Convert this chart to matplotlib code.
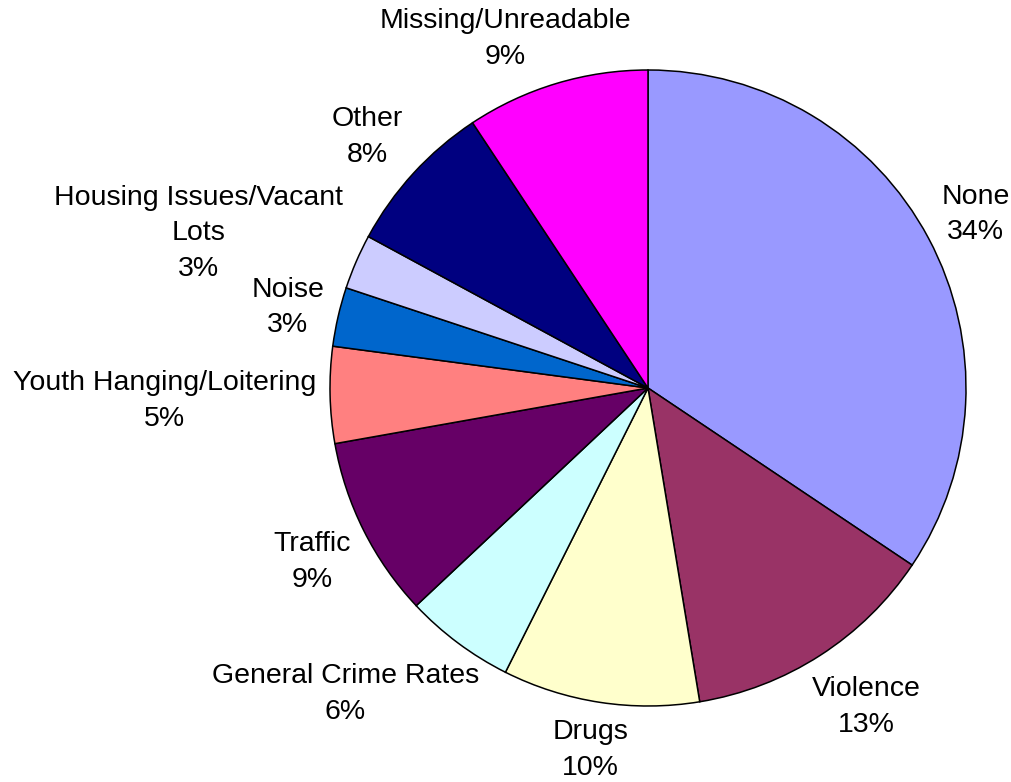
import matplotlib
matplotlib.use("Agg")
import matplotlib.pyplot as plt
import numpy as np

categories = ["None", "Violence", "Drugs", "General Crime Rates", "Traffic",
              "Youth Hanging/Loitering", "Noise", "Housing Issues/Vacant\nLots",
              "Other", "Missing/Unreadable"]
shares = [34.4, 13.0, 10.0, 5.6, 9.2, 4.9, 3.0, 2.8, 7.8, 9.3]
colors = ["#9999FF", "#993366", "#FFFFCC", "#CCFFFF", "#660066",
          "#FF8080", "#0066CC", "#CCCCFF", "#000080", "#FF00FF"]

plt.rcParams['font.family'] = ['Liberation Sans', 'DejaVu Sans']

W, H = 1012, 782
fig = plt.figure(figsize=(W / 100, H / 100), dpi=100)
cx, cy, r = 648, 388, 318
ax = fig.add_axes([(cx - r) / W, (H - cy - r) / H, 2 * r / W, 2 * r / H])
ax.axis('off')

wedges, _ = ax.pie(shares, colors=colors, startangle=90, counterclock=False,
                   radius=1, wedgeprops=dict(edgecolor='black', linewidth=1.1))
ax.set_aspect('auto')
ax.set_xlim(-1, 1)
ax.set_ylim(-1, 1)

total = sum(shares)
texts = []
dirs = []
for w, lab, v in zip(wedges, categories, shares):
    mid = np.deg2rad((w.theta1 + w.theta2) / 2)
    d = np.array([np.cos(mid), np.sin(mid)])
    t = ax.text(0, 0, f"{lab}\n{v / total * 100:.0f}%", ha='center', va='center',
                fontsize=20.5, linespacing=1.48, multialignment='center', clip_on=False)
    texts.append(t)
    dirs.append(d)

# put each label box just outside the rim, touching the ray through the slice middle
fig.canvas.draw()
renderer = fig.canvas.get_renderer()
inv = ax.transData.inverted()
pad = 9 / r  # extra room above the text, like the Excel label box
ylo = inv.transform([[0, 0]])[0][1]
for t, d in zip(texts, dirs):
    bb = t.get_window_extent(renderer)
    (x0, y0), (x1, y1) = inv.transform([[bb.x0, bb.y0], [bb.x1, bb.y1]])
    hw, hh = (x1 - x0) / 2, (y1 - y0 + pad) / 2
    p = d * 1.045
    if abs(d[0]) / hw > 0.75 * abs(d[1]) / hh:
        f = min(1.0, 1.3 * abs(d[1]))
        off = (np.sign(d[0]) * hw, np.sign(d[1]) * f * hh)
    else:
        f = min(1.0, 1.3 * abs(d[0]))
        off = (np.sign(d[0]) * f * hw, np.sign(d[1]) * hh)
    yc = p[1] + off[1] - pad / 2
    # keep the label inside the picture
    yc = max(yc, ylo + (y1 - y0) / 2 + 1 / r)
    t.set_position((p[0] + off[0], yc))

fig.savefig("out.png", dpi=100)
